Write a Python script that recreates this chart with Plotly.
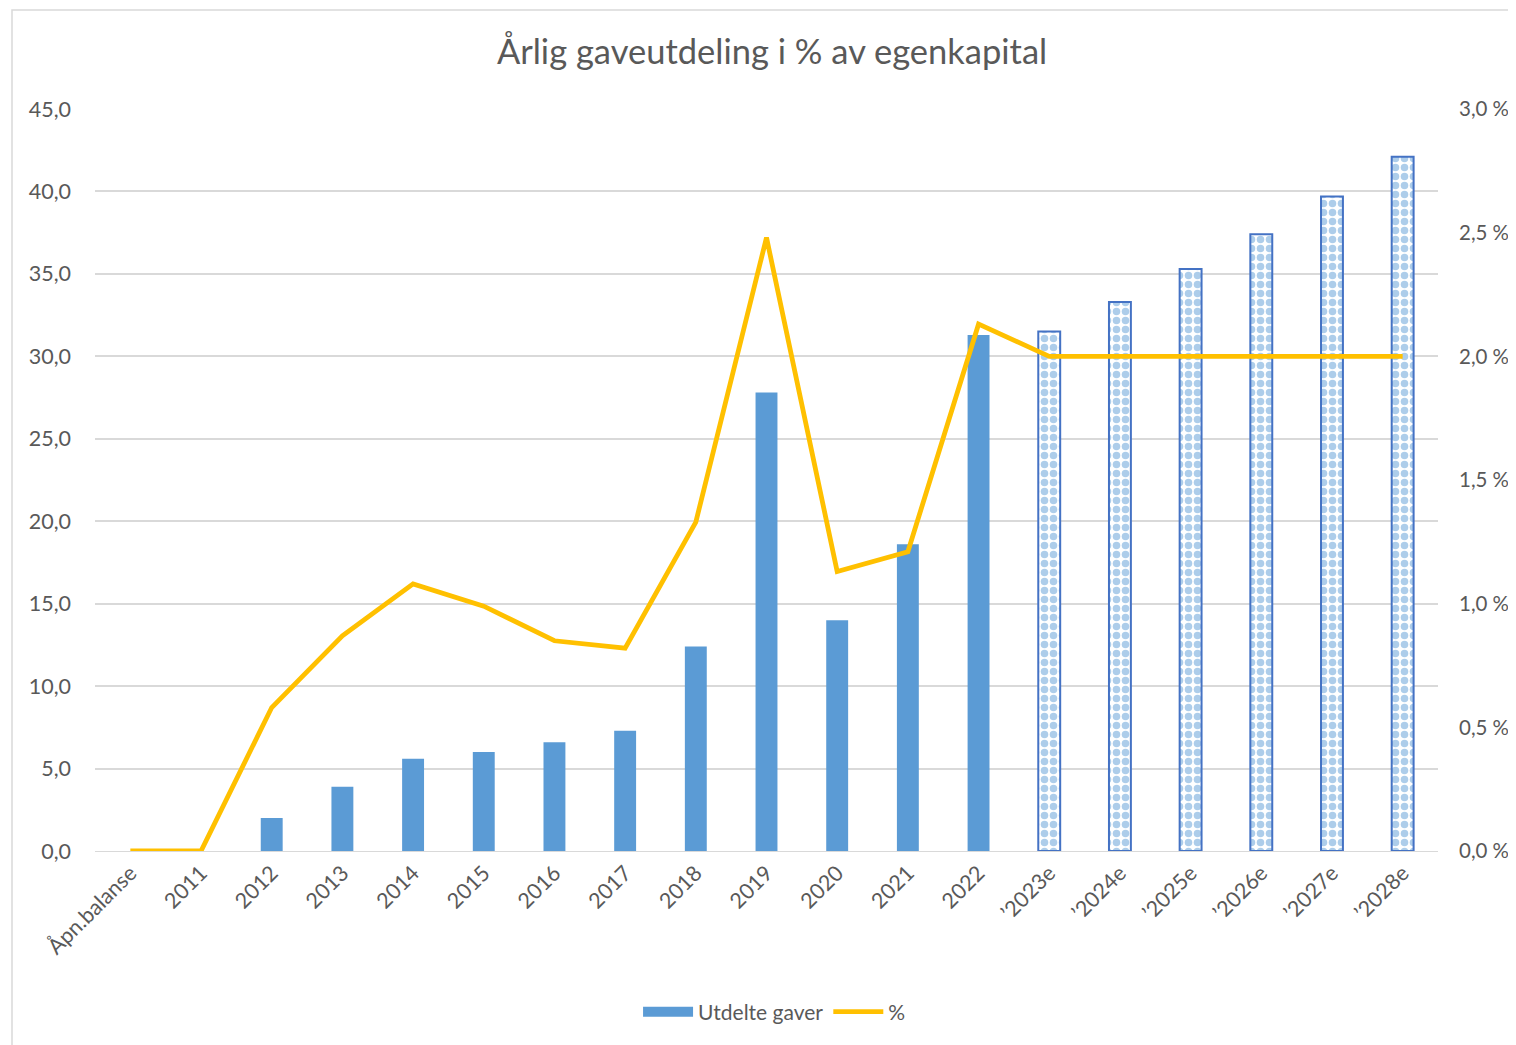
import plotly.graph_objects as go

categories = ["Åpn.balanse", "2011", "2012", "2013", "2014", "2015", "2016", "2017",
              "2018", "2019", "2020", "2021", "2022", "’2023e", "’2024e", "’2025e",
              "’2026e", "’2027e", "’2028e"]
gaver = [None, None, 2.0, 3.9, 5.6, 6.0, 6.6, 7.3, 12.4, 27.8, 14.0, 18.6, 31.3,
         31.5, 33.3, 35.3, 37.4, 39.7, 42.1]
prosent = [0.0, 0.0, 0.58, 0.87, 1.08, 0.99, 0.85, 0.82, 1.33, 2.48, 1.13, 1.21, 2.13,
           2.0, 2.0, 2.0, 2.0, 2.0, 2.0]

is_est = [c.endswith("e") for c in categories]
act_x = [c for c, e in zip(categories, is_est) if not e]
act_y = [v for v, e in zip(gaver, is_est) if not e]
est_x = [c for c, e in zip(categories, is_est) if e]
est_y = [v for v, e in zip(gaver, is_est) if e]

FONT = "Lato, Open Sans, sans-serif"
GREY = "#595959"
BLUE = "#5B9BD5"

# page offset (body margin) of 8 px
L, T = 87, 101
PW, PH = 1343, 742

fig = go.Figure()
fig.add_trace(go.Bar(x=act_x, y=act_y, name="Utdelte gaver", width=0.31, showlegend=False,
                     marker=dict(color=BLUE, line=dict(width=0))))
fig.add_trace(go.Bar(x=est_x, y=est_y, name="Utdelte gaver (e)", width=0.31, showlegend=False,
                     marker=dict(color="white",
                                 line=dict(color="#4472C4", width=2),
                                 pattern=dict(shape=".", fgcolor=BLUE, bgcolor="white",
                                              size=9, solidity=0.55, fillmode="overlay"))))
# legend entry for the bars (wide rectangle swatch)
fig.add_trace(go.Scatter(x=[None], y=[None], name="Utdelte gaver", mode="lines",
                         line=dict(color=BLUE, width=15)))
fig.add_trace(go.Scatter(x=categories, y=prosent, name="%", mode="lines", yaxis="y2",
                         line=dict(color="#FFC000", width=4.8)))

fig.update_layout(
    width=1516, height=1045,
    margin=dict(l=L, r=1516 - L - PW, t=T, b=1045 - T - PH),
    paper_bgcolor="white", plot_bgcolor="white",
    separators=", ",
    barmode="overlay",
    font=dict(family=FONT, color=GREY, size=21),
    title=dict(text="Årlig gaveutdeling i % av egenkapital", x=0.504, xanchor="center",
               y=1 - 44 / 1045, yanchor="middle", yref="container",
               font=dict(family=FONT, size=34.5, color=GREY)),
    xaxis=dict(categoryorder="array", categoryarray=categories, tickangle=-45,
               showgrid=False, showline=True, linecolor="#D9D9D9", linewidth=1,
               ticks="", tickfont=dict(size=21.5, color=GREY), range=[-0.5, 18.5]),
    yaxis=dict(range=[0, 45], dtick=5, tickformat=".1f", showgrid=True, gridcolor="#D9D9D9",
               gridwidth=1.5, zeroline=False, showline=False, ticks="",
               tickfont=dict(size=21.5, color=GREY), ticklabelstandoff=23),
    yaxis2=dict(range=[0, 3.0], dtick=0.5, tickformat=".1f", ticksuffix="\u202f%", overlaying="y",
                side="right", showgrid=False, zeroline=False, showline=False, ticks="",
                tickfont=dict(size=20.5, color=GREY), ticklabelstandoff=20),
    legend=dict(orientation="h", x=0.506, xanchor="center", y=(843 - 1004) / PH, yanchor="middle",
                font=dict(size=21, color=GREY), traceorder="normal", itemwidth=50),
    shapes=[dict(type="rect", xref="paper", yref="paper",
                 x0=(4 - L) / PW, x1=(1515 - L) / PW,
                 y0=(843 - 1044) / PH, y1=(843 - 2) / PH,
                 line=dict(color="#D9D9D9", width=1.5), fillcolor="rgba(0,0,0,0)", layer="below")],
)

fig.write_html("out.html")
